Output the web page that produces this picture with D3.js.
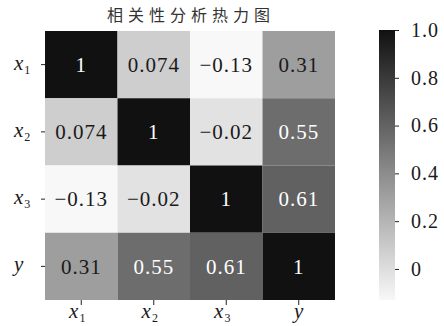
<!DOCTYPE html>
<html><head><meta charset="utf-8">
<script src="https://cdn.jsdelivr.net/npm/d3@7"></script>
<style>body{margin:0;background:#fff}svg{display:block}</style>
</head><body>
<script>
const categories = ["x1", "x2", "x3", "y"];
const labelBase = ["x", "x", "x", "y"];
const labelSub = ["1", "2", "3", ""];
const row_x1 = [1, 0.074, -0.13, 0.31];
const row_x2 = [0.074, 1, -0.02, 0.55];
const row_x3 = [-0.13, -0.02, 1, 0.61];
const row_y = [0.31, 0.55, 0.61, 1];
const cellText = [
  ["1", "0.074", "\u22120.13", "0.31"],
  ["0.074", "1", "\u22120.02", "0.55"],
  ["\u22120.13", "\u22120.02", "1", "0.61"],
  ["0.31", "0.55", "0.61", "1"]
];
const cbTicks = [0, 0.2, 0.4, 0.6, 0.8, 1.0];
const cbTickLabels = ["0", "0.2", "0.4", "0.6", "0.8", "1.0"];
const title = "相关性分析热力图";
const vmin = -0.13, vmax = 1;

const matrix = [row_x1, row_x2, row_x3, row_y];
const W = 444, H = 326;
const serif = "'Liberation Serif', 'Times New Roman', serif";
const svg = d3.select("body").append("svg").attr("width", W).attr("height", H);

const x = d3.scaleBand().domain(categories).range([45, 335]);
const y = d3.scaleBand().domain(categories).range([31, 300]);
const color = d3.scaleLinear().domain([vmin, vmax]).range(["#f8f8f8", "#111111"]);

const cells = [];
matrix.forEach((row, i) => row.forEach((v, j) => cells.push({r: categories[i], c: categories[j], v, t: cellText[i][j]})));

svg.append("g").selectAll("rect").data(cells).join("rect")
  .attr("x", d => x(d.c)).attr("y", d => y(d.r))
  .attr("width", x.bandwidth()).attr("height", y.bandwidth())
  .attr("fill", d => color(d.v));

svg.append("g").selectAll("text").data(cells).join("text")
  .attr("x", d => x(d.c) + x.bandwidth() / 2)
  .attr("y", d => y(d.r) + y.bandwidth() / 2)
  .attr("dy", "0.35em")
  .attr("text-anchor", "middle")
  .attr("font-family", serif)
  .attr("font-size", 21)
  .attr("letter-spacing", 1)
  .attr("fill", d => d.v > 0.45 ? "#ffffff" : "#1a1a1a")
  .text(d => d.t);

function label(sel, i) {
  sel.append("tspan").attr("font-style", "italic").text(labelBase[i]);
  if (labelSub[i]) sel.append("tspan").attr("font-size", 12).attr("dy", 4).attr("dx", 1).text(labelSub[i]);
}

// y axis
const yAxis = svg.append("g").attr("transform", "translate(45,0)")
  .call(d3.axisLeft(y).tickSize(4).tickFormat(""));
yAxis.select(".domain").remove();
yAxis.selectAll("line").attr("stroke", "#222");
categories.forEach((c, i) => {
  const t = svg.append("text")
    .attr("x", 14).attr("y", y(c) + y.bandwidth() / 2 + 5)
    .attr("font-family", serif).attr("font-size", 21).attr("fill", "#1a1a1a");
  label(t, i);
});

// x axis
const xAxis = svg.append("g").attr("transform", "translate(0,300)")
  .call(d3.axisBottom(x).tickSize(5).tickFormat(""));
xAxis.select(".domain").remove();
xAxis.selectAll("line").attr("stroke", "#222");
categories.forEach((c, i) => {
  const t = svg.append("text")
    .attr("x", x(c) + x.bandwidth() / 2 - (labelSub[i] ? 4 : 0)).attr("y", 318)
    .attr("text-anchor", "middle")
    .attr("font-family", serif).attr("font-size", 21).attr("fill", "#1a1a1a");
  label(t, i);
});

// title
svg.append("text").attr("x", 191).attr("y", 21).attr("text-anchor", "middle")
  .attr("font-family", "'Noto Sans CJK SC', sans-serif").attr("font-size", 16)
  .attr("letter-spacing", 5).attr("fill", "#333").text(title);

// colorbar
const cbY = d3.scaleLinear().domain([vmin, vmax]).range([300, 30]);
const defs = svg.append("defs");
const grad = defs.append("linearGradient").attr("id", "cb").attr("x1", 0).attr("y1", 1).attr("x2", 0).attr("y2", 0);
d3.range(0, 1.0001, 0.1).forEach(f => grad.append("stop").attr("offset", f).attr("stop-color", color(vmin + f * (vmax - vmin))));
svg.append("rect").attr("x", 379).attr("y", 30).attr("width", 16).attr("height", 270).attr("fill", "url(#cb)");
const cbAxis = svg.append("g").attr("transform", "translate(395,0)")
  .call(d3.axisRight(cbY).tickValues(cbTicks).tickSize(4).tickFormat((d, i) => cbTickLabels[i]));
cbAxis.select(".domain").remove();
cbAxis.selectAll("line").attr("stroke", "#222");
cbAxis.attr("font-family", serif).attr("font-size", 20);
cbAxis.selectAll("text").attr("fill", "#1a1a1a").attr("x", 16).attr("letter-spacing", 1);
</script>
</body></html>
